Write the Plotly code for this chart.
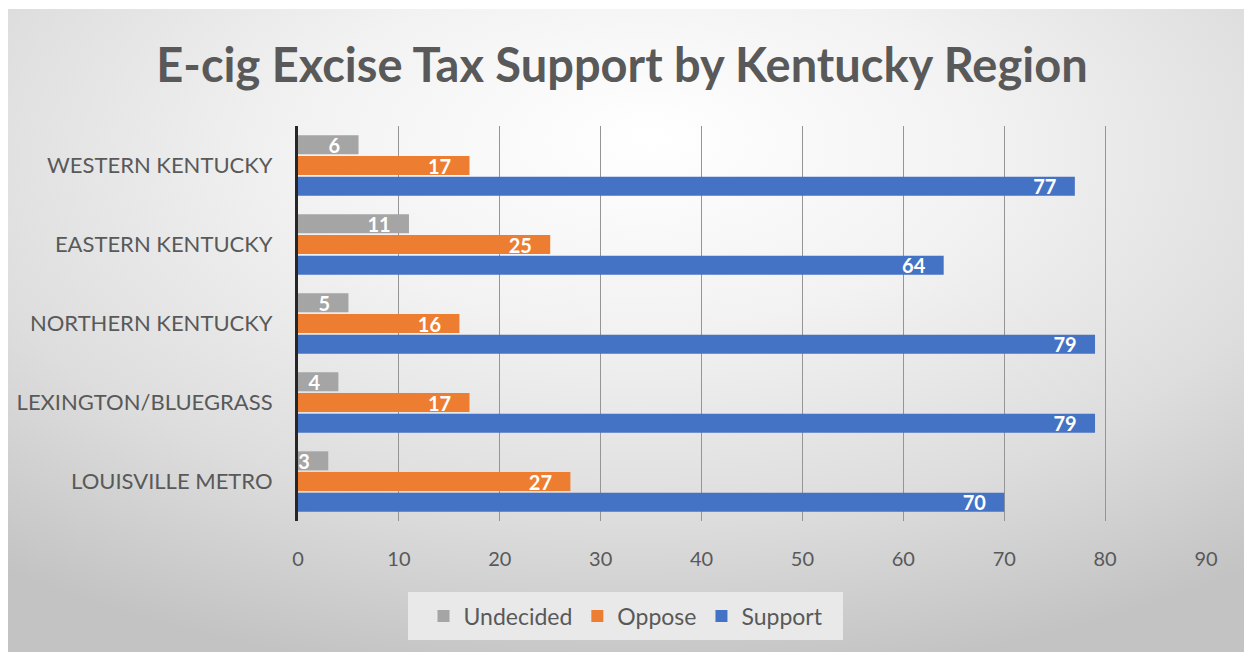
import base64
import plotly.graph_objects as go

# Survey results by region (percent)
regions = ["LOUISVILLE METRO", "LEXINGTON/BLUEGRASS", "NORTHERN KENTUCKY",
           "EASTERN KENTUCKY", "WESTERN KENTUCKY"]
support = [70, 79, 79, 64, 77]
oppose = [27, 17, 16, 25, 17]
undecided = [3, 4, 5, 11, 6]
x_ticks = [0, 10, 20, 30, 40, 50, 60, 70, 80, 90]

W, H = 1244, 652
L, R, T, B = 298, 38, 126, 131
pw, ph = W - L - R, H - T - B

FONT = "Lato"
TXT = "#595959"

# soft radial backdrop behind the whole chart
svg = f'''<svg xmlns="http://www.w3.org/2000/svg" width="{W}" height="{H}" viewBox="0 0 {W} {H}" preserveAspectRatio="none">
<defs><radialGradient id="g" cx="0.5" cy="0.25" r="0.8" fx="0.52" fy="0.2">
<stop offset="0" stop-color="#ffffff"/><stop offset="0.35" stop-color="#f2f2f2"/>
<stop offset="0.7" stop-color="#dddddd"/><stop offset="1" stop-color="#c3c3c3"/></radialGradient></defs>
<rect x="0" y="0" width="{W}" height="{H}" fill="#ffffff"/>
<rect x="8" y="9" width="{W - 8}" height="{H - 9}" fill="url(#g)"/></svg>'''
bg_src = "data:image/svg+xml;base64," + base64.b64encode(svg.encode()).decode()


def px_to_paper_x(px):
    return (px - L) / pw


def px_to_paper_y(py):
    return 1 - (py - T) / ph


series = [
    ("Support", support, "#4472C4"),
    ("Oppose", oppose, "#ED7D31"),
    ("Undecided", undecided, "#A5A5A5"),
]

fig = go.Figure()
for name, vals, color in series:
    fig.add_trace(go.Bar(
        y=regions, x=vals, name=name, orientation="h",
        marker=dict(color=color, line=dict(width=0)),
        texttemplate="<b>%{x}</b>\u00a0\u00a0\u00a0",
        textposition="inside", insidetextanchor="end", textangle=0,
        textfont=dict(family=FONT, size=20, color="white"),
        cliponaxis=False,
    ))

fig.update_layout(
    width=W, height=H,
    margin=dict(l=L, r=R, t=T, b=B),
    paper_bgcolor="white", plot_bgcolor="rgba(0,0,0,0)",
    barmode="group", bargap=0.215, bargroupgap=0.08,
    uniformtext=dict(mode="show", minsize=20),
    title=dict(text="<b>E-cig Excise Tax Support by Kentucky Region</b>",
               font=dict(family=FONT, size=47, color=TXT),
               x=622 / W, xref="container", xanchor="center",
               y=1 - 66 / H, yref="container", yanchor="middle"),
    legend=dict(orientation="h", traceorder="reversed",
                x=626 / W, xref="container", xanchor="center",
                y=1 - 616 / H, yref="container", yanchor="middle",
                bgcolor="rgba(0,0,0,0)", font=dict(family=FONT, size=23, color=TXT),
                itemsizing="constant"),
    xaxis=dict(range=[0, 90], tickvals=x_ticks, showgrid=True,
               gridcolor="#959595", gridwidth=1, zeroline=False,
               showline=False, ticks="", ticklabelstandoff=24,
               tickfont=dict(family=FONT, size=20, color=TXT)),
    yaxis=dict(showline=True, linecolor="#262626", linewidth=3,
               ticks="", ticklabelstandoff=18, showgrid=False,
               tickfont=dict(family=FONT, size=22, color=TXT)),
    shapes=[dict(type="rect", xref="paper", yref="paper",
                 x0=px_to_paper_x(408), x1=px_to_paper_x(843),
                 y0=px_to_paper_y(640), y1=px_to_paper_y(592),
                 fillcolor="#e9e9e9", line=dict(width=0), layer="below")],
    images=[dict(source=bg_src, xref="paper", yref="paper",
                 x=-L / pw, y=1 + T / ph, sizex=W / pw, sizey=H / ph,
                 xanchor="left", yanchor="top", sizing="stretch",
                 layer="below")],
)

fig.write_html("out.html")
